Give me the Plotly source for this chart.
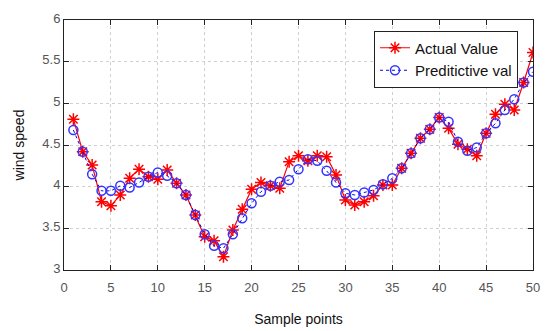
import plotly.graph_objects as go

sample_points = list(range(1, 51))
actual_value = [4.81, 4.42, 4.26, 3.82, 3.77, 3.90, 4.10, 4.21, 4.12, 4.09,
                4.20, 4.04, 3.90, 3.66, 3.40, 3.35, 3.16, 3.48, 3.73, 3.97,
                4.05, 4.01, 3.98, 4.30, 4.37, 4.31, 4.37, 4.36, 4.14, 3.84,
                3.78, 3.82, 3.89, 4.02, 4.02, 4.22, 4.40, 4.58, 4.69, 4.83,
                4.70, 4.51, 4.45, 4.37, 4.64, 4.87, 4.99, 4.92, 5.25, 5.61]
predicted_value = [4.68, 4.42, 4.15, 3.95, 3.95, 4.01, 3.99, 4.05, 4.12, 4.17,
                   4.13, 4.04, 3.90, 3.66, 3.43, 3.29, 3.26, 3.43, 3.62, 3.80,
                   3.94, 4.01, 4.06, 4.08, 4.21, 4.33, 4.31, 4.19, 4.05, 3.92,
                   3.90, 3.93, 3.96, 4.03, 4.10, 4.22, 4.40, 4.58, 4.69, 4.83,
                   4.78, 4.54, 4.43, 4.47, 4.64, 4.76, 4.92, 5.05, 5.25, 5.38]
x_ticks = [0, 5, 10, 15, 20, 25, 30, 35, 40, 45, 50]
y_ticks = [3, 3.5, 4, 4.5, 5, 5.5, 6]
y_tick_labels = ["3", "3.5", "4", "4.5", "5", "5.5", "6"]

fig = go.Figure()
fig.add_trace(go.Scatter(
    x=sample_points, y=actual_value, name="Actual Value",
    mode="lines+markers",
    line=dict(color="#ff0000", width=1.2),
    marker=dict(symbol="asterisk-open", size=10, color="#ff0000",
                line=dict(color="#ff0000", width=1.5)),
))
fig.add_trace(go.Scatter(
    x=sample_points, y=predicted_value, name="Preditictive val",
    mode="lines+markers",
    line=dict(color="#0000ff", width=1, dash="dot"),
    marker=dict(symbol="circle-open", size=9, color="#3333ff",
                line=dict(color="#3333ff", width=1.5)),
))

axis_common = dict(
    showline=True, linecolor="#222", linewidth=1, mirror="ticks",
    ticks="inside", ticklen=5, tickcolor="#222",
    showgrid=True, gridcolor="#d0d0d0", griddash="dot", gridwidth=1,
    zeroline=False, ticklabeloverflow="allow",
    tickfont=dict(family="Liberation Sans, Arial", size=13, color="#555"),
)

fig.update_xaxes(range=[0, 50], tickvals=x_ticks, ticklabelstandoff=5,
                 title=dict(text="Sample points", standoff=20,
                            font=dict(family="Liberation Sans, Arial", size=14, color="#111")),
                 **axis_common)
fig.update_yaxes(range=[3, 6], tickvals=y_ticks, ticktext=y_tick_labels,
                 ticklabelshift=-2,
                 title=dict(text="wind speed", standoff=14,
                            font=dict(family="Liberation Sans, Arial", size=14, color="#111")),
                 **axis_common)

fig.update_layout(
    width=542, height=323,
    margin=dict(l=56, r=17, t=3, b=61),
    paper_bgcolor="white", plot_bgcolor="white",
    showlegend=True,
    legend=dict(x=0.968, y=0.958, xanchor="right", yanchor="top",
                bgcolor="white", bordercolor="#222", borderwidth=1,
                font=dict(family="Liberation Sans, Arial", size=15, color="#111"),
                tracegroupgap=0, itemwidth=30),
)

fig.write_html("out.html")
